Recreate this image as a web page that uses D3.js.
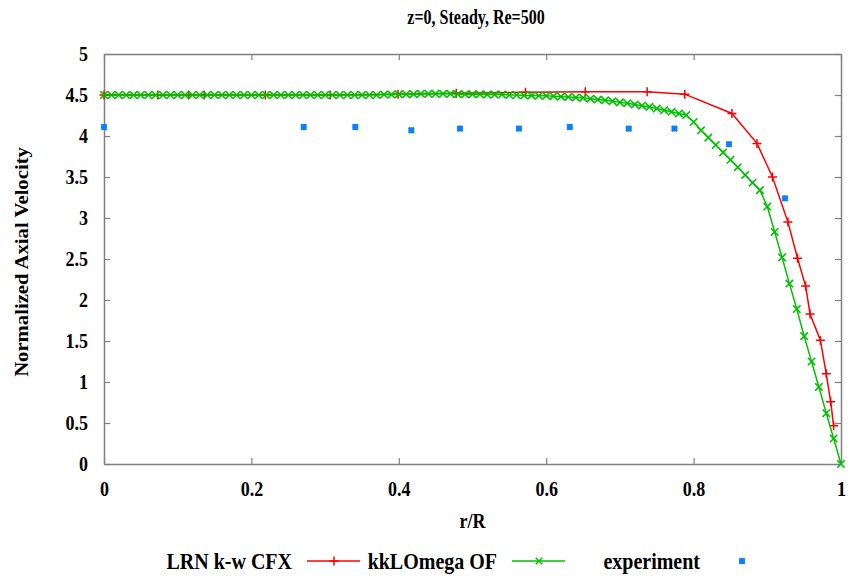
<!DOCTYPE html>
<html>
<head>
<meta charset="utf-8">
<script src="https://cdn.jsdelivr.net/npm/d3@7"></script>
<style>
  html, body { margin: 0; padding: 0; background: #fff; }
  svg { display: block; }
  text { font-family: "Liberation Serif", "Times New Roman", serif; font-weight: bold; fill: #000; }
</style>
</head>
<body>
<svg id="chart" width="849" height="577"></svg>
<script>
// Axial velocity profiles at z=0 (steady, Re=500)
const titleText = "z=0, Steady, Re=500";
const xLabel = "r/R";
const yLabel = "Normalized Axial Velocity";

const xTicks = [0, 0.2, 0.4, 0.6, 0.8, 1];
const xTickLabels = ["0", "0.2", "0.4", "0.6", "0.8", "1"];
const yTicks = [0, 0.5, 1, 1.5, 2, 2.5, 3, 3.5, 4, 4.5, 5];
const yTickLabels = ["0", "0.5", "1", "1.5", "2", "2.5", "3", "3.5", "4", "4.5", "5"];

const seriesNames = ["LRN k-w CFX", "kkLOmega OF", "experiment"];
const seriesColors = ["#ff0000", "#00c000", "#0a80ff"];

// LRN k-w CFX
const redR = [0, 0.073, 0.115, 0.136, 0.219, 0.307, 0.399, 0.478, 0.572, 0.653, 0.737, 0.788,
  0.852, 0.886, 0.907, 0.928, 0.941, 0.952, 0.958, 0.972, 0.980, 0.986, 0.990];
const redV = [4.50, 4.50, 4.50, 4.50, 4.50, 4.50, 4.51, 4.52, 4.535, 4.54, 4.54, 4.51,
  4.275, 3.91, 3.50, 2.95, 2.51, 2.17, 1.83, 1.51, 1.10, 0.76, 0.465];

// kkLOmega OF
const greenR = [
  0.00, 0.01, 0.02, 0.03, 0.04, 0.05, 0.06, 0.07, 0.08, 0.09,
  0.10, 0.11, 0.12, 0.13, 0.14, 0.15, 0.16, 0.17, 0.18, 0.19,
  0.20, 0.21, 0.22, 0.23, 0.24, 0.25, 0.26, 0.27, 0.28, 0.29,
  0.30, 0.31, 0.32, 0.33, 0.34, 0.35, 0.36, 0.37, 0.38, 0.39,
  0.40, 0.41, 0.42, 0.43, 0.44, 0.45, 0.46, 0.47, 0.48, 0.49,
  0.50, 0.51, 0.52, 0.53, 0.54, 0.55, 0.56, 0.57, 0.58, 0.59,
  0.60, 0.61, 0.62, 0.63, 0.64, 0.65, 0.66, 0.67, 0.68, 0.69,
  0.70, 0.71, 0.72, 0.73, 0.74, 0.75, 0.76, 0.77, 0.78, 0.79,
  0.80, 0.81, 0.82, 0.83, 0.84, 0.85, 0.86, 0.87, 0.88, 0.89,
  0.90, 0.91, 0.92, 0.93, 0.94, 0.95, 0.96, 0.97, 0.98, 0.99,
  1.00];
const greenV = [
  4.50, 4.50, 4.50, 4.50, 4.50, 4.50, 4.50, 4.50, 4.50, 4.50,
  4.50, 4.50, 4.50, 4.50, 4.50, 4.50, 4.50, 4.50, 4.50, 4.50,
  4.50, 4.50, 4.50, 4.50, 4.50, 4.50, 4.50, 4.50, 4.50, 4.50,
  4.50, 4.50, 4.50, 4.50, 4.50, 4.50, 4.50, 4.50, 4.505, 4.505,
  4.51, 4.51, 4.51, 4.515, 4.515, 4.515, 4.515, 4.515, 4.51, 4.51,
  4.51, 4.51, 4.505, 4.505, 4.505, 4.50, 4.50, 4.495, 4.495, 4.49,
  4.49, 4.485, 4.48, 4.475, 4.47, 4.465, 4.455, 4.445, 4.435, 4.425,
  4.41, 4.40, 4.385, 4.37, 4.355, 4.335, 4.315, 4.295, 4.275, 4.255,
  4.17, 4.07, 3.98, 3.89, 3.80, 3.71, 3.62, 3.525, 3.43, 3.34,
  3.14, 2.83, 2.52, 2.20, 1.89, 1.56, 1.25, 0.94, 0.62, 0.31,
  0.00];

// experiment
const expR = [0, 0.271, 0.341, 0.417, 0.483, 0.563, 0.632, 0.712, 0.774, 0.848, 0.924];
const expV = [4.11, 4.11, 4.11, 4.07, 4.09, 4.09, 4.11, 4.09, 4.09, 3.90, 3.24];

const svg = d3.select("#chart");
const plotLeft = 104, plotRight = 841, plotTop = 54, plotBottom = 464;
// the serif lettering is drawn a little taller than wide
const stretch = 1.17;

const x = d3.scaleLinear().domain([0, 1]).range([plotLeft, plotRight]);
const y = d3.scaleLinear().domain([0, 5]).range([plotBottom, plotTop]);

const axisColor = "#808080";
function styleAxis(g) {
  g.selectAll(".domain").attr("stroke", axisColor).attr("stroke-width", 1.5);
  g.selectAll(".tick line").attr("stroke", axisColor).attr("stroke-width", 1.2);
  g.selectAll("text").attr("font-size", 18).attr("fill", "#000")
    .attr("font-family", "'Liberation Serif', serif").attr("font-weight", "bold")
    .attr("transform", `scale(1,${stretch})`);
}

// bottom axis with labels, ticks pointing inwards
svg.append("g").attr("transform", `translate(0,${plotBottom})`)
  .call(d3.axisBottom(x).tickValues(xTicks)
    .tickFormat((d, i) => xTickLabels[i]).tickSizeInner(-6).tickSizeOuter(0).tickPadding(15))
  .call(styleAxis);
// top border with mirrored ticks
svg.append("g").attr("transform", `translate(0,${plotTop})`)
  .call(d3.axisTop(x).tickValues(xTicks).tickFormat("").tickSizeInner(-6).tickSizeOuter(0))
  .call(styleAxis);
// left axis with labels
svg.append("g").attr("transform", `translate(${plotLeft},0)`)
  .call(d3.axisLeft(y).tickValues(yTicks)
    .tickFormat((d, i) => yTickLabels[i]).tickSizeInner(-6).tickSizeOuter(0).tickPadding(16))
  .call(styleAxis);
// right border with mirrored ticks
svg.append("g").attr("transform", `translate(${plotRight},0)`)
  .call(d3.axisRight(y).tickValues(yTicks).tickFormat("").tickSizeInner(-6).tickSizeOuter(0))
  .call(styleAxis);

// titles
svg.append("text").attr("transform", `translate(476,24) scale(1,${stretch + 0.08})`)
  .attr("text-anchor", "middle").attr("font-size", 16).text(titleText);
svg.append("text").attr("transform", `translate(${(plotLeft + plotRight) / 2},528) scale(1,${stretch})`)
  .attr("text-anchor", "middle").attr("font-size", 18).text(xLabel);
svg.append("text")
  .attr("transform", `translate(28,262) rotate(-90) scale(${stretch - 0.02},1)`)
  .attr("text-anchor", "middle").attr("font-size", 18).text(yLabel);

// marker shapes
const plusPath = s => `M${-s},0H${s}M0,${-s}V${s}`;
const crossPath = s => `M${-s},${-s}L${s},${s}M${-s},${s}L${s},${-s}`;
const starPath = s => plusPath(s) + crossPath(s * 0.9);

const line = d3.line().x(d => x(d[0])).y(d => y(d[1]));

const redData = redR.map((r, i) => [r, redV[i]]);
const greenData = greenR.map((r, i) => [r, greenV[i]]);
const expData = expR.map((r, i) => [r, expV[i]]);

const plot = svg.append("g");

// LRN k-w CFX
plot.append("path").datum(redData).attr("d", line)
  .attr("fill", "none").attr("stroke", seriesColors[0]).attr("stroke-width", 1.5);
plot.selectAll(".redpt").data(redData).join("path").attr("class", "redpt")
  .attr("transform", d => `translate(${x(d[0])},${y(d[1])})`)
  .attr("d", plusPath(4.5)).attr("stroke", seriesColors[0]).attr("stroke-width", 1.5).attr("fill", "none");

// kkLOmega OF
plot.append("path").datum(greenData).attr("d", line)
  .attr("fill", "none").attr("stroke", seriesColors[1]).attr("stroke-width", 1.5);
plot.selectAll(".greenpt").data(greenData).join("path").attr("class", "greenpt")
  .attr("transform", d => `translate(${x(d[0])},${y(d[1])})`)
  .attr("d", crossPath(3.7)).attr("stroke", seriesColors[1]).attr("stroke-width", 1.6).attr("fill", "none");

// experiment
plot.selectAll(".exppt").data(expData).join("path").attr("class", "exppt")
  .attr("transform", d => `translate(${x(d[0])},${y(d[1])})`)
  .attr("d", starPath(3)).attr("stroke", seriesColors[2]).attr("stroke-width", 2).attr("fill", "none");

// legend
const legendY = 561;
const entryTextEnd = [292, 497, 700];
const legend = svg.append("g");
seriesNames.forEach((name, i) => {
  const tx = entryTextEnd[i];
  legend.append("text").attr("transform", `translate(${tx},${legendY}) scale(1,${stretch})`)
    .attr("dy", "0.35em").attr("text-anchor", "end").attr("font-size", 20).text(name);
  const cx = tx + 42;
  if (i < 2) {
    legend.append("line").attr("x1", tx + 15).attr("x2", tx + 68)
      .attr("y1", legendY).attr("y2", legendY)
      .attr("stroke", seriesColors[i]).attr("stroke-width", 1.5);
  }
  const shape = i === 0 ? plusPath(4.5) : i === 1 ? crossPath(3.3) : starPath(3);
  legend.append("path").attr("transform", `translate(${cx},${legendY})`)
    .attr("d", shape).attr("stroke", seriesColors[i]).attr("stroke-width", i === 2 ? 2 : 1.5)
    .attr("fill", "none");
});
</script>
</body>
</html>
